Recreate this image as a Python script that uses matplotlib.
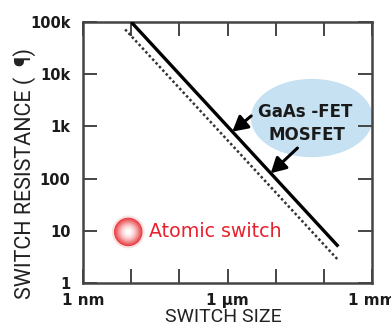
import numpy as np
import matplotlib
matplotlib.use('Agg')
import matplotlib.pyplot as plt
from matplotlib.patches import Ellipse

# switch size (m) vs switch resistance (ohm)
fet_size = [1e-8, 2e-4]
fet_res = [1e5, 5]
mos_size = [7.5e-9, 1.95e-4]
mos_res = [7.2e4, 2.8]
atomic_size = [8.7e-9]
atomic_res = [9.5]

x_ticks = [1e-9, 1e-8, 1e-7, 1e-6, 1e-5, 1e-4, 1e-3]
x_labels = ['1 nm', '', '', '1 \u03bcm', '', '', '1 mm']
y_ticks = [1, 10, 100, 1e3, 1e4, 1e5]
y_labels = ['1', '10', '100', '1k', '10k', '100k']

# arrow tips sit on the solid line at these sizes
arrow_sizes = [1.26e-6, 7.9e-6]

label_font = ['Roboto', 'DejaVu Sans']

fig = plt.figure(figsize=(3.91, 3.27), dpi=100)
ax = fig.add_axes([0.2123, 0.1346, 0.7391, 0.7982])
ax.set_xscale('log')
ax.set_yscale('log')
ax.set_xlim(1e-9, 1e-3)
ax.set_ylim(1, 1e5)

# blue bubble behind the device labels
bubble = Ellipse((0.792, 0.632), 0.422, 0.30, transform=ax.transAxes,
                 facecolor='#c6e1f2', edgecolor='none', zorder=1)
ax.add_patch(bubble)

ax.plot(fet_size, fet_res, color='black', lw=2.4, zorder=3, solid_capstyle='butt')
ax.plot(mos_size, mos_res, color='#333333', lw=1.8, ls=(0, (1, 1)), zorder=3)

# atomic switch marker: red ring fading to a white centre
ax.scatter(atomic_size, atomic_res, s=560, color='#f5b8b8', alpha=0.4, edgecolors='none', zorder=3.9)
n = 14
for i in range(n):
    t = i / (n - 1)
    size = 420 * (1 - t) + 20 * t
    col = (0.9 + 0.1 * t, 0.25 + 0.73 * t ** 1.3, 0.27 + 0.71 * t ** 1.3)
    ax.scatter(atomic_size, atomic_res, s=size, color=col, edgecolors='none', zorder=4 + i * 0.01)

ax.text(0.229, 0.198, 'Atomic switch', transform=ax.transAxes, color='#e8212e',
        fontsize=13.7, va='center', ha='left')

ax.text(0.768, 0.656, 'GaAs -FET', transform=ax.transAxes, fontsize=12,
        fontweight='bold', color='#1a1a1a', ha='center', va='center', zorder=5)
ax.text(0.775, 0.566, 'MOSFET', transform=ax.transAxes, fontsize=12,
        fontweight='bold', color='#1a1a1a', ha='center', va='center', zorder=5)

arrow_tails = [(0.582, 0.640), (0.742, 0.517)]
for sz, tail in zip(arrow_sizes, arrow_tails):
    ax.annotate('', xy=(sz, fet_res[0] * fet_size[0] / sz), xycoords='data',
                xytext=tail, textcoords='axes fraction',
                arrowprops=dict(arrowstyle='-|>,head_length=0.9,head_width=0.5',
                                color='black', lw=2.2, shrinkA=0, shrinkB=0,
                                mutation_scale=10), zorder=6)

ax.set_xticks(x_ticks)
ax.set_xticklabels(x_labels, fontweight='bold', fontsize=11)
ax.set_yticks(y_ticks)
ax.set_yticklabels(y_labels, fontweight='bold', fontsize=10.5)
ax.minorticks_off()
ax.tick_params(axis='both', which='major', direction='in', length=10, width=1.4,
               color='#444444', top=True, right=True, labelcolor='#1a1a1a')
ax.tick_params(axis='y', pad=9)
ax.tick_params(axis='x', pad=7)
for sp in ax.spines.values():
    sp.set_linewidth(1.8)
    sp.set_color('#444444')

ax.set_xlabel('SWITCH SIZE', family=label_font, fontsize=14, color='#222222', labelpad=1)
ax.xaxis.set_label_coords(0.484, -0.095)
ax.xaxis.label.set_va('top')
ax.set_ylabel('SWITCH RESISTANCE (  \u00b6)', family=label_font, fontsize=15.5,
              color='#222222')
ax.yaxis.label.set_va('center')
ax.yaxis.set_label_coords(-0.203, 0.42)

fig.savefig('out.png', dpi=100)
